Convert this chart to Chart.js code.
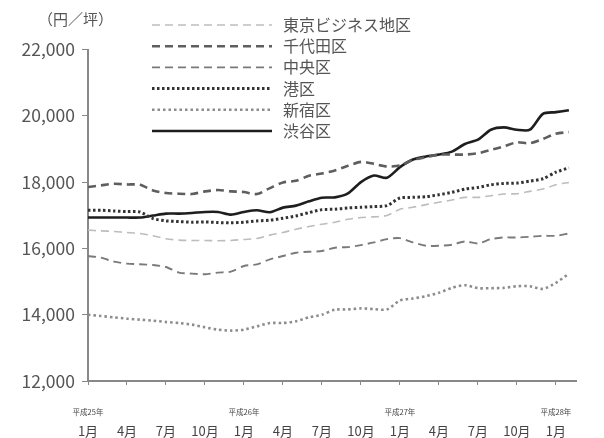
<!DOCTYPE html>
<html>
<head>
<meta charset="utf-8">
<script src="https://cdn.jsdelivr.net/npm/chart.js@4.4.0/dist/chart.umd.min.js"></script>
<style>
body { margin: 0; background: #fff; }
#newCanva { width: 604px; height: 438px; position: relative; }
</style>
</head>
<body>
<div id="newCanva"><canvas id="myChart"></canvas></div>
<script>
// 平成25年1月 〜 平成28年2月
var months = [];
for (var yy = 25; yy <= 28; yy++) {
    for (var mm = 1; mm <= 12; mm++) {
        if (yy == 28 && mm > 2) break;
        months.push(yy + '/' + mm);
    }
}
var monthLabels = ['1月', '4月', '7月', '10月'];
var yearLabels = ['平成25年', '平成26年', '平成27年', '平成28年'];
var yTicks = [12000, 14000, 16000, 18000, 20000, 22000];
var names = ['東京ビジネス地区', '千代田区', '中央区', '港区', '新宿区', '渋谷区'];

var tokyo = [16550, 16530, 16510, 16480, 16450, 16380, 16290, 16250, 16240, 16240, 16230, 16240, 16270, 16300, 16400, 16480, 16580, 16660, 16730, 16790, 16880, 16930, 16950, 16990, 17180, 17240, 17320, 17390, 17460, 17540, 17540, 17590, 17640, 17650, 17720, 17790, 17920, 17990];
var chiyoda = [17850, 17900, 17950, 17930, 17920, 17750, 17670, 17650, 17640, 17720, 17760, 17720, 17700, 17640, 17820, 17990, 18040, 18190, 18260, 18350, 18490, 18610, 18550, 18470, 18500, 18670, 18750, 18830, 18830, 18830, 18870, 18970, 19080, 19200, 19170, 19300, 19460, 19510];
var chuo = [15770, 15720, 15600, 15540, 15520, 15500, 15440, 15270, 15240, 15220, 15270, 15300, 15470, 15520, 15670, 15770, 15870, 15900, 15920, 16020, 16040, 16100, 16180, 16280, 16310, 16180, 16080, 16080, 16110, 16210, 16150, 16280, 16330, 16330, 16350, 16380, 16380, 16450];
var minato = [17150, 17150, 17130, 17110, 17100, 16900, 16830, 16810, 16790, 16800, 16780, 16770, 16790, 16830, 16850, 16910, 16980, 17080, 17170, 17180, 17220, 17240, 17260, 17290, 17520, 17540, 17560, 17620, 17690, 17790, 17840, 17920, 17960, 17970, 18030, 18100, 18300, 18430];
var shinjuku = [14000, 13960, 13920, 13880, 13850, 13820, 13780, 13750, 13700, 13620, 13550, 13520, 13550, 13650, 13750, 13750, 13800, 13920, 14000, 14150, 14160, 14190, 14170, 14160, 14430, 14490, 14560, 14660, 14810, 14890, 14800, 14800, 14810, 14860, 14860, 14780, 14960, 15240];
var shibuya = [16930, 16930, 16930, 16930, 16930, 16990, 17050, 17050, 17070, 17100, 17100, 17020, 17100, 17150, 17090, 17230, 17290, 17420, 17530, 17540, 17660, 18000, 18200, 18130, 18450, 18680, 18770, 18830, 18920, 19150, 19280, 19580, 19650, 19580, 19580, 20060, 20110, 20170];

var FONT = '"Noto Sans CJK JP", "Noto Sans", sans-serif';

function pts(arr) {
    return arr.map(function (v, i) { return { x: i, y: v }; });
}

// 凡例・単位・年ラベル
var extras = {
    id: 'extras',
    afterDraw: function (chart) {
        var ctx = chart.ctx;
        ctx.save();
        ctx.fillStyle = '#555';
        ctx.font = '15px ' + FONT;
        ctx.textBaseline = 'middle';
        ctx.fillText('（円／坪）', 38, 19);

        chart.data.datasets.forEach(function (ds, i) {
            var y = 25 + i * 21.2;
            ctx.lineWidth = ds.borderWidth;
            ctx.strokeStyle = ds.borderColor;
            ctx.setLineDash(ds.borderDash || []);
            ctx.beginPath();
            ctx.moveTo(152, y);
            ctx.lineTo(272, y);
            ctx.stroke();
            ctx.setLineDash([]);
            ctx.fillStyle = '#555';
            ctx.font = '16px ' + FONT;
            ctx.fillText(ds.label, 283, y);
        });

        var xs = chart.scales.x;
        ctx.font = '7.5px ' + FONT;
        ctx.textAlign = 'center';
        ctx.fillStyle = '#444';
        yearLabels.forEach(function (t, k) {
            ctx.fillText(t, xs.getPixelForValue(k * 12), 412);
        });
        ctx.restore();
    }
};

const ctx = document.getElementById('myChart');
new Chart(ctx, {
    type: 'line',
    data: {
        datasets: [{
            label: names[0],
            data: pts(tokyo),
            borderColor: '#bdbdbd',
            borderWidth: 1.6,
            borderDash: [8, 5]
        }, {
            label: names[1],
            data: pts(chiyoda),
            borderColor: '#5e5e5e',
            borderWidth: 2.6,
            borderDash: [8, 5]
        }, {
            label: names[2],
            data: pts(chuo),
            borderColor: '#7a7a7a',
            borderWidth: 1.9,
            borderDash: [8, 5]
        }, {
            label: names[3],
            data: pts(minato),
            borderColor: '#333',
            borderWidth: 3,
            borderDash: [2.5, 2.5]
        }, {
            label: names[4],
            data: pts(shinjuku),
            borderColor: '#8c8c8c',
            borderWidth: 2.6,
            borderDash: [2.5, 3]
        }, {
            label: names[5],
            data: pts(shibuya),
            borderColor: '#1e1e1e',
            borderWidth: 2.6
        }]
    },
    options: {
        responsive: true,
        maintainAspectRatio: false,
        animation: false,
        layout: { padding: { top: 49.5, right: 0, left: 0, bottom: 0 } },
        elements: {
            point: { radius: 0 },
            line: { tension: 0.25, fill: false }
        },
        plugins: {
            legend: { display: false },
            tooltip: { enabled: false }
        },
        scales: {
            x: {
                type: 'linear',
                min: 0,
                max: 37.6,
                afterFit: function (s) { s.height = 57; },
                border: { color: '#888', width: 2 },
                grid: { drawOnChartArea: false, drawTicks: true, tickLength: 4, color: '#888' },
                ticks: {
                    stepSize: 3,
                    includeBounds: false,
                    maxRotation: 0,
                    padding: 38,
                    color: '#444',
                    font: { family: FONT, size: 13 },
                    callback: function (v) { return monthLabels[(v % 12) / 3]; }
                }
            },
            y: {
                min: yTicks[0],
                max: yTicks[yTicks.length - 1],
                afterFit: function (s) { s.width = 88; },
                afterBuildTicks: function (s) { s.ticks = yTicks.map(function (v) { return { value: v }; }); },
                border: { color: '#888', width: 2 },
                grid: { drawOnChartArea: false, drawTicks: true, tickLength: 6, color: '#888' },
                ticks: {
                    padding: 7,
                    color: '#555',
                    font: { family: FONT, size: 17.5 },
                    callback: function (v) { return v.toLocaleString('en-US'); }
                }
            }
        }
    },
    plugins: [extras]
});
</script>
</body>
</html>
